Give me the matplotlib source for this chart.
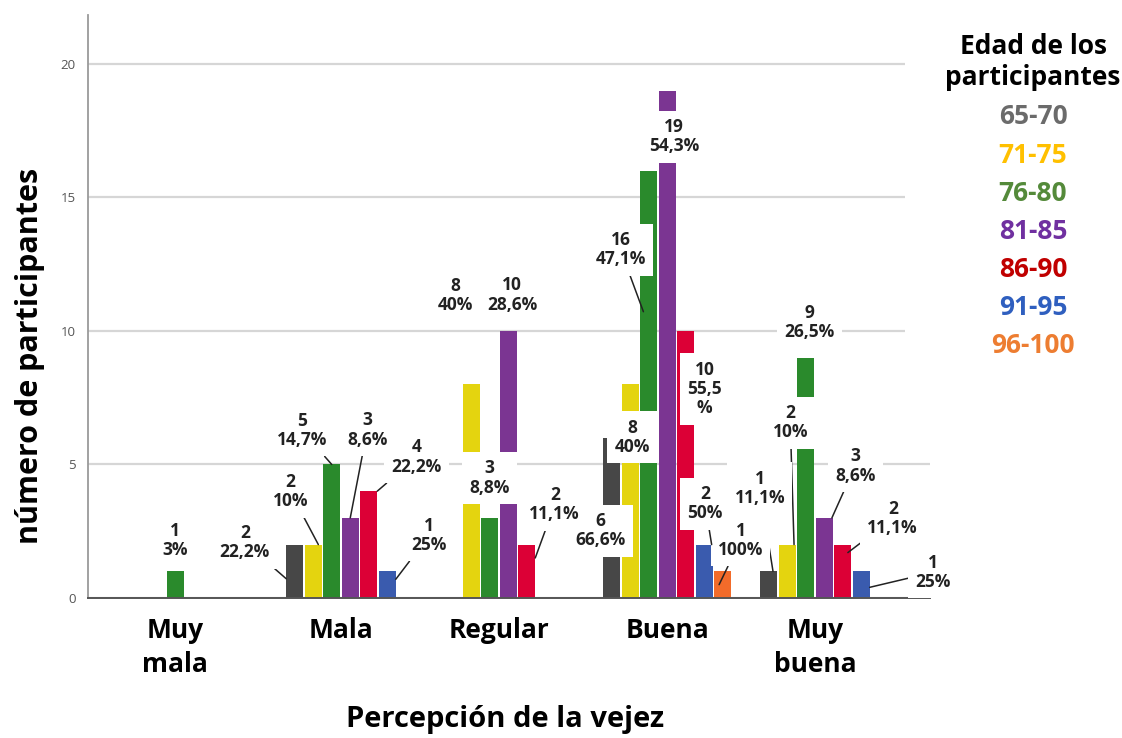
import numpy as np
import matplotlib.pyplot as plt
from matplotlib.patches import Rectangle

plt.rcParams['font.family'] = ['Open Sans', 'DejaVu Sans']

categories = ['Muy\nmala', 'Mala', 'Regular', 'Buena', 'Muy\nbuena']
ages = ['65-70', '71-75', '76-80', '81-85', '86-90', '91-95', '96-100']

# participants per age group, one value per category
counts = [
    [0, 2, 0, 6, 1],
    [0, 2, 8, 8, 2],
    [1, 5, 3, 16, 9],
    [0, 3, 10, 19, 3],
    [0, 4, 2, 10, 2],
    [0, 1, 0, 2, 1],
    [0, 0, 0, 1, 0],
]
# percentage within each age group
pcts = [
    ['', '22,2%', '', '66,6%', '11,1%'],
    ['', '10%', '40%', '40%', '10%'],
    ['3%', '14,7%', '8,8%', '47,1%', '26,5%'],
    ['', '8,6%', '28,6%', '54,3%', '8,6%'],
    ['', '22,2%', '11,1%', '55,5\n%', '11,1%'],
    ['', '25%', '', '50%', '25%'],
    ['', '', '', '100%', ''],
]

bar_colors = ['#474747', '#e4d40f', '#2a8a2c', '#7b3592', '#dc0036', '#3a5bae', '#f26b2a']
legend_colors = ['#6b6b6b', '#ffc000', '#548a3a', '#7030a0', '#c00000', '#2f5fbf', '#ed7d31']

# cluster centres on the x axis
pos = np.array([0.0, 1.0375, 2.025, 3.075, 4.0])

# label placement: (category, age) -> (dx px, up px, leader anchor on the bar)
label_pos = {
    (0, 2): (0, 31, None),
    (1, 0): (-50, 2, (-0.5, 0.36)),
    (1, 1): (-23, 53, (0.3, 1.0)),
    (1, 2): (-30, 34, (0.0, 1.0)),
    (1, 3): (17, 88, (0.0, 1.0)),
    (1, 4): (48, 34, (0.5, 1.0)),
    (1, 5): (42, 36, (0.5, 0.7)),
    (2, 1): (-16, 89, None),
    (2, 2): (0, 40, None),
    (2, 3): (4, 36, None),
    (2, 4): (28, 40, (0.5, 0.75)),
    (3, 0): (-11, -93, None),
    (3, 1): (2, -53, None),
    (3, 2): (-28, -79, (-0.3, 0.67)),
    (3, 3): (7, -46, None),
    (3, 4): (19, -58, None),
    (3, 5): (1, 41, (0.45, 1.0)),
    (3, 6): (18, 31, (-0.2, 0.5)),
    (4, 0): (-9, 83, (0.25, 1.0)),
    (4, 1): (3, 122, (0.4, 1.0)),
    (4, 2): (4, 35, None),
    (4, 3): (31, 52, (0.45, 1.0)),
    (4, 4): (50, 26, (0.3, 0.85)),
    (4, 5): (72, -1, (0.5, 0.4)),
}

W, H = 1122, 738
fig = plt.figure(figsize=(W / 100, H / 100), dpi=100)
ax = fig.add_axes([88 / W, 140 / H, 842 / W, 583 / H])

step = 18.5 / 160
width = 17 / 160
ax.set_xlim(-87 / 160, -87 / 160 + 842 / 160)
ax.set_ylim(0, 21.83)

# bars: only the non-empty age groups, centred on each category
bar_xy = {}
for c in range(len(categories)):
    present = [a for a in range(len(ages)) if counts[a][c] > 0]
    offs = (np.arange(len(present)) - (len(present) - 1) / 2) * step
    for a, o in zip(present, offs):
        x = pos[c] + o
        ax.bar(x, counts[a][c], width=width, color=bar_colors[a], zorder=2)
        bar_xy[(c, a)] = (x, counts[a][c])

ax.set_yticks([0, 5, 10, 15, 20])
ax.yaxis.grid(True, color='#d6d6d6', lw=1.6, zorder=0)
ax.set_axisbelow(True)
ax.tick_params(axis='y', length=0, pad=9, labelsize=9.5, labelcolor='#555555')
ax.set_xticks(pos, categories)
ax.tick_params(axis='x', length=0, pad=14, labelsize=19)
for t in ax.get_xticklabels():
    t.set_fontweight('bold')
    t.set_linespacing(1.3)
for s in ['top', 'right']:
    ax.spines[s].set_visible(False)
ax.spines['left'].set_color('#9a9a9a')
ax.spines['left'].set_linewidth(1.3)
ax.spines['bottom'].set_color('#555555')
ax.spines['bottom'].set_linewidth(1.4)

px_x = 160.0
px_y = 583 / 21.83

# value labels, drawn right to left so the left-hand ones sit on top
for (c, a), (dx, up, anchor) in sorted(label_pos.items(), key=lambda kv: (-kv[0][0], -kv[0][1])):
    x, v = bar_xy[(c, a)]
    txt = f'{counts[a][c]}\n{pcts[a][c]}'
    tx = x + dx / px_x
    ty = v + up / px_y
    box = dict(boxstyle='square,pad=0.42', fc='white', ec='none')
    if anchor is None:
        ax.text(tx, ty, txt, ha='center', va='center', fontsize=12.5,
                fontweight='bold', color='#222222', bbox=box, zorder=4,
                linespacing=1.1)
    else:
        fx, fy = anchor
        ax.annotate(txt, xy=(x + fx * width, v * fy), xytext=(tx, ty),
                    ha='center', va='center', fontsize=12.5, fontweight='bold',
                    color='#222222', bbox=box, zorder=4, linespacing=1.1,
                    arrowprops=dict(arrowstyle='-', color='#222222', lw=1.1,
                                    shrinkA=0, shrinkB=0))

fig.text(30 / W, 1 - 356 / H, 'número de participantes', rotation=90,
         ha='center', va='center', fontsize=22, fontweight='bold')
fig.text(505 / W, 1 - 719 / H, 'Percepción de la vejez',
         ha='center', va='center', fontsize=21, fontweight='bold')

# legend area
fig.add_artist(Rectangle((905 / W, 1 - 365 / H), (W - 905) / W, 365 / H,
                         transform=fig.transFigure, fc='white', ec='none', zorder=1))
fig.text(1033 / W, 1 - 62 / H, 'Edad de los\nparticipantes', ha='center',
         va='center', fontsize=19, fontweight='bold', linespacing=1.15, zorder=2)
for i, (lab, col) in enumerate(zip(ages, legend_colors)):
    fig.text(1033 / W, 1 - (117 + 38.1 * i) / H, lab, ha='center', va='center',
             fontsize=19, fontweight='bold', color=col, zorder=2)

fig.savefig('out.png', dpi=100)
